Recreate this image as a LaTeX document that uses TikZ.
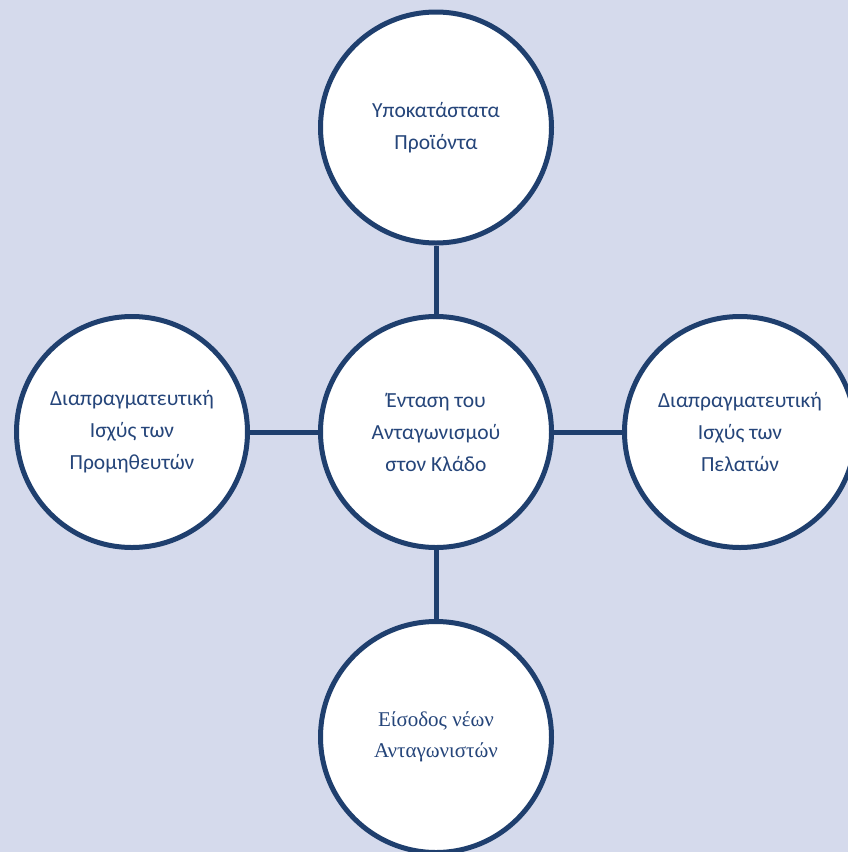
\documentclass[tikz,border=0pt]{standalone}
\usepackage{fontspec}
\setmainfont{Carlito}
\newfontfamily\serifgr{Liberation Serif}
\definecolor{bgcol}{HTML}{D5DAEC}
\definecolor{navy}{HTML}{1F3F6E}
\definecolor{txtcol}{HTML}{25457A}
\begin{document}
\begin{tikzpicture}[x=1pt,y=-1pt,
  force/.style={circle,draw=navy,line width=5pt,fill=white,minimum size=231pt,inner sep=0pt,
    text=txtcol,align=center,font=\fontsize{21.5}{32}\selectfont},
  link/.style={draw=navy,line width=5pt}]
\fill[bgcol] (0,0) rectangle (848,852);
\useasboundingbox (0,0) rectangle (848,852);
\begin{scope}
\clip (0,0) rectangle (848,852);
\node[force] (mid) at (436,432) {Ένταση του\\Ανταγωνισμού\\στον Κλάδο};
\node[force] (top) at (436,127.5) {Υποκατάστατα\\Προϊόντα};
\node[force] (left) at (132,432) {Διαπραγματευτική\\Ισχύς των\\Προμηθευτών};
\node[force] (right) at (740,432) {Διαπραγματευτική\\Ισχύς των\\Πελατών};
\node[force,font=\serifgr\fontsize{21}{31}\selectfont] (bot) at (436,737) {Είσοδος νέων\\Ανταγωνιστών};
\draw[link] (top) -- (mid);
\draw[link] (left) -- (mid);
\draw[link] (mid) -- (right);
\draw[link] (mid) -- (bot);
\end{scope}
\end{tikzpicture}
\end{document}
